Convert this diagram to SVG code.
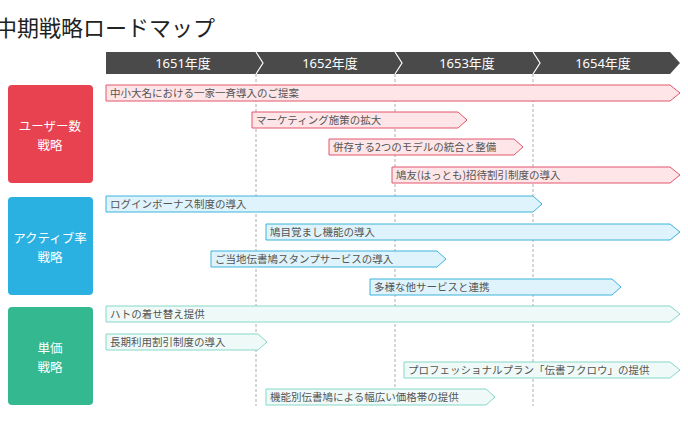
<svg xmlns="http://www.w3.org/2000/svg" width="688" height="424" viewBox="0 0 688 424">
<style>
text{font-family:"Noto Sans CJK JP","Noto Sans",sans-serif}
.hd{fill:#fff;font-size:13px;text-anchor:middle;font-family:"Noto Sans","Noto Sans CJK JP",sans-serif}
.cat{fill:#fff;font-size:12.5px;text-anchor:middle}
.bl{fill:#555;font-size:10.5px}
.r{fill:#fde5e8;stroke:#e2566c;stroke-width:1}
.b{fill:#def3fb;stroke:#3cb3db;stroke-width:1}
.g{fill:#effaf8;stroke:#86d7c8;stroke-width:1}
.dash{stroke:#999;stroke-width:0.8;stroke-dasharray:3,2}
</style>
<rect width="688" height="424" fill="#fff"/>
<text x="-5" y="36" font-size="22" fill="#222">中期戦略ロードマップ</text>
<g id="header">
<polygon points="106,52 670,52 680,63 670,74 106,74" fill="#4a4a4a"/>
<polyline points="256,52 263,63 256,74" fill="none" stroke="#fff" stroke-width="1.2"/>
<polyline points="395,52 402,63 395,74" fill="none" stroke="#fff" stroke-width="1.2"/>
<polyline points="533,52 540,63 533,74" fill="none" stroke="#fff" stroke-width="1.2"/>
<text class="hd" x="183" y="68">1651年度</text>
<text class="hd" x="330" y="68">1652年度</text>
<text class="hd" x="467" y="68">1653年度</text>
<text class="hd" x="603" y="68">1654年度</text>
</g>
<g id="gridlines">
<line class="dash" x1="256" y1="74" x2="256" y2="406"/>
<line class="dash" x1="395" y1="74" x2="395" y2="406"/>
<line class="dash" x1="533" y1="74" x2="533" y2="406"/>
</g>
<g id="cat-user"><rect x="8" y="85" width="85" height="98" rx="4" fill="#e8414f"/><text class="cat" x="50" y="131">ユーザー数</text><text class="cat" x="50" y="150">戦略</text></g>
<g id="cat-active"><rect x="8" y="197" width="85" height="98" rx="4" fill="#2bb1e1"/><text class="cat" x="50" y="243">アクティブ率</text><text class="cat" x="50" y="262">戦略</text></g>
<g id="cat-price"><rect x="8" y="307" width="85" height="98" rx="4" fill="#33b88f"/><text class="cat" x="50" y="353">単価</text><text class="cat" x="50" y="372">戦略</text></g>
<g id="bars">
<g id="b1"><polygon class="r" points="106,85 670,85 680,93 670,101 106,101"/><text class="bl" x="110" y="97">中小大名における一家一斉導入のご提案</text></g>
<g id="b2"><polygon class="r" points="252,112 458,112 467,120 458,128 252,128"/><text class="bl" x="256" y="124">マーケティング施策の拡大</text></g>
<g id="b3"><polygon class="r" points="329,139 514,139 523,147 514,155 329,155"/><text class="bl" x="333" y="151">併存する2つのモデルの統合と整備</text></g>
<g id="b4"><polygon class="r" points="392,167 670,167 680,175 670,183 392,183"/><text class="bl" x="396" y="179">鳩友(はっとも)招待割引制度の導入</text></g>
<g id="b5"><polygon class="b" points="106,196 533,196 542,204 533,212 106,212"/><text class="bl" x="110" y="208">ログインボーナス制度の導入</text></g>
<g id="b6"><polygon class="b" points="266,224 670,224 680,232 670,240 266,240"/><text class="bl" x="270" y="236">鳩目覚まし機能の導入</text></g>
<g id="b7"><polygon class="b" points="211,251 437,251 446,259 437,267 211,267"/><text class="bl" x="215" y="263">ご当地伝書鳩スタンプサービスの導入</text></g>
<g id="b8"><polygon class="b" points="370,279 612,279 621,287 612,295 370,295"/><text class="bl" x="374" y="291">多様な他サービスと連携</text></g>
<g id="b9"><polygon class="g" points="106,306 670,306 680,314 670,322 106,322"/><text class="bl" x="110" y="318">ハトの着せ替え提供</text></g>
<g id="b10"><polygon class="g" points="106,334 258,334 267,342 258,350 106,350"/><text class="bl" x="110" y="346">長期利用割引制度の導入</text></g>
<g id="b11"><polygon class="g" points="404,362 670,362 680,370 670,378 404,378"/><text class="bl" x="408" y="374">プロフェッショナルプラン「伝書フクロウ」の提供</text></g>
<g id="b12"><polygon class="g" points="266,389 486,389 495,397 486,405 266,405"/><text class="bl" x="270" y="401">機能別伝書鳩による幅広い価格帯の提供</text></g>
</g>
</svg>
